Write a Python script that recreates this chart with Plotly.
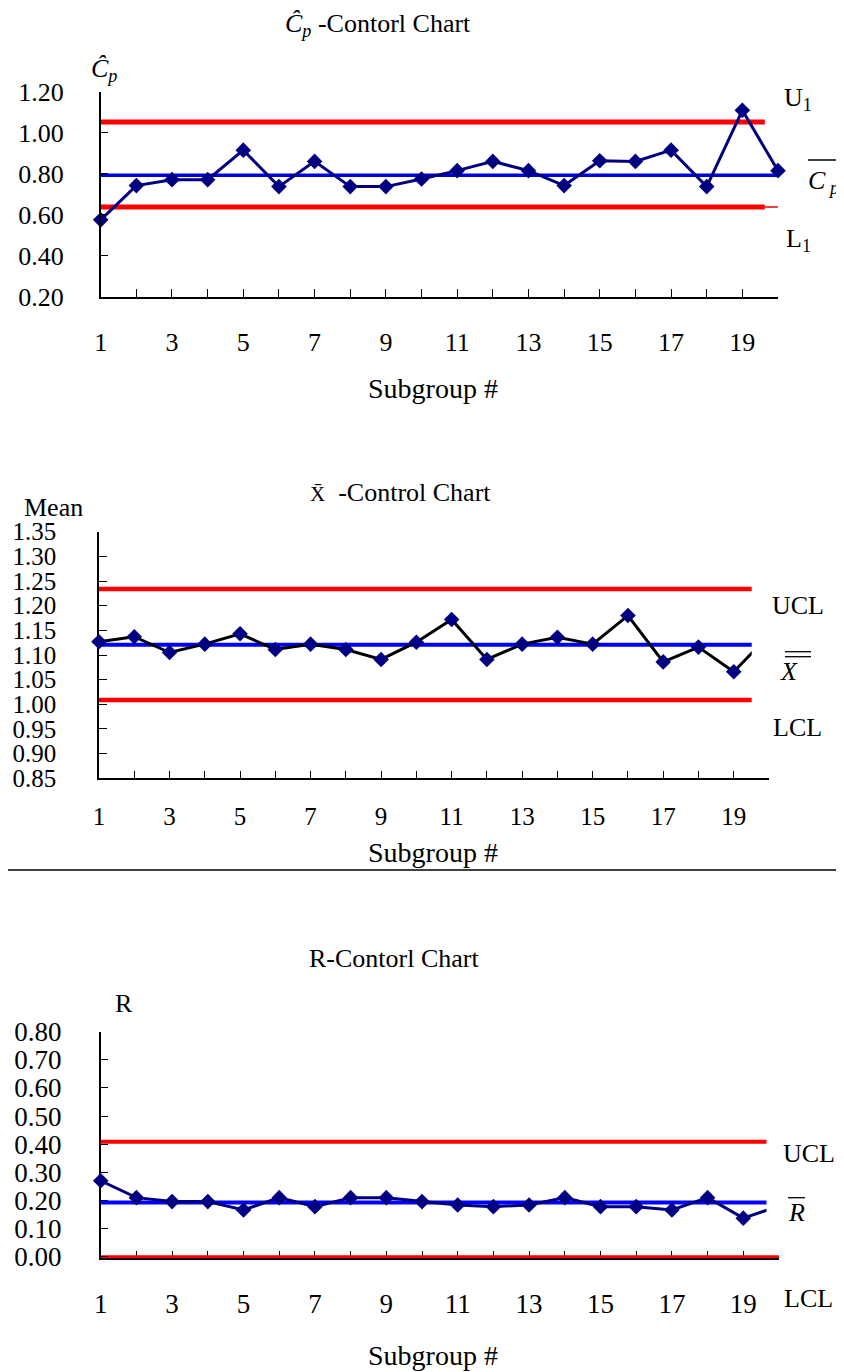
import plotly.graph_objects as go

W, H = 844, 1372
PAGE_OFFSET = 8  # default body margin of the written page

# ---------------- data ----------------
subgroups = list(range(1, 21))

cp_values = [0.575, 0.742, 0.771, 0.771, 0.915, 0.737, 0.860, 0.737, 0.737, 0.774,
             0.815, 0.860, 0.815, 0.742, 0.863, 0.860, 0.915, 0.737, 1.109, 0.815]
cp_u1 = 1.052
cp_center = 0.792
cp_l1 = 0.638
cp_limit_x = [1, 19.63]

mean_values = [1.127, 1.137, 1.105, 1.122, 1.143, 1.111, 1.122, 1.111, 1.091, 1.126,
               1.172, 1.091, 1.122, 1.136, 1.122, 1.180, 1.086, 1.116, 1.066, 1.140]
mean_ucl = 1.234
mean_center = 1.121
mean_lcl = 1.009

r_values = [0.270, 0.210, 0.196, 0.196, 0.166, 0.210, 0.178, 0.210, 0.210, 0.196,
            0.184, 0.178, 0.184, 0.210, 0.178, 0.178, 0.166, 0.210, 0.137, 0.180]
r_ucl = 0.409
r_center = 0.193
r_lcl = 0.0

cp_yticks = [0.20, 0.40, 0.60, 0.80, 1.00, 1.20]
mean_yticks = [0.85, 0.90, 0.95, 1.00, 1.05, 1.10, 1.15, 1.20, 1.25, 1.30, 1.35]
r_yticks = [0.00, 0.10, 0.20, 0.30, 0.40, 0.50, 0.60, 0.70, 0.80]
x_label_ticks = subgroups[0::2]   # 1, 3, ..., 19 carry labels
x_minor_ticks = subgroups[1::2]   # 2, 4, ..., 20 tick marks only

# ---------------- helpers ----------------
FONT = "Liberation Serif"
NAVY = "#000080"
RED = "#FF0000"
BLUE = "#0000FF"


def px(x):
    return (x - PAGE_OFFSET) / W


def py(y):
    return 1 - (y - PAGE_OFFSET) / H


def xdom(left_px, right_px):
    return [px(left_px), px(right_px)]


def ydom(top_px, bottom_px):
    return [py(bottom_px), py(top_px)]


fig = go.Figure()

# ---------------- chart 1 : Cp ----------------
fig.add_trace(go.Scatter(x=cp_limit_x, y=[cp_u1, cp_u1], mode="lines",
                         line=dict(color=RED, width=5), xaxis="x", yaxis="y"))
fig.add_trace(go.Scatter(x=cp_limit_x, y=[cp_l1, cp_l1], mode="lines",
                         line=dict(color=RED, width=5), xaxis="x", yaxis="y"))
fig.add_trace(go.Scatter(x=[cp_limit_x[1], subgroups[-1]], y=[cp_l1, cp_l1], mode="lines",
                         line=dict(color=RED, width=1.5), xaxis="x", yaxis="y"))
fig.add_trace(go.Scatter(x=[subgroups[0], subgroups[-1]], y=[cp_center, cp_center], mode="lines",
                         line=dict(color="#0000DD", width=3.5), xaxis="x", yaxis="y"))
fig.add_trace(go.Scatter(x=subgroups, y=cp_values, mode="lines+markers",
                         line=dict(color=NAVY, width=3),
                         marker=dict(symbol="diamond", size=12, color=NAVY),
                         cliponaxis=False, xaxis="x", yaxis="y"))

# ---------------- chart 2 : X-bar ----------------
# invisible anchor trace so that the visible x axis of chart 2 is drawn
fig.add_trace(go.Scatter(x=[subgroups[0]], y=[mean_center], mode="markers",
                         marker=dict(opacity=0, size=1), hoverinfo="skip",
                         xaxis="x2", yaxis="y2"))
fig.add_trace(go.Scatter(x=[subgroups[0], subgroups[-1]], y=[mean_ucl, mean_ucl], mode="lines",
                         line=dict(color=RED, width=4.5), xaxis="x4", yaxis="y2"))
fig.add_trace(go.Scatter(x=[subgroups[0], subgroups[-1]], y=[mean_lcl, mean_lcl], mode="lines",
                         line=dict(color=RED, width=4.5), xaxis="x4", yaxis="y2"))
fig.add_trace(go.Scatter(x=[subgroups[0], subgroups[-1]], y=[mean_center, mean_center], mode="lines",
                         line=dict(color=BLUE, width=4), xaxis="x4", yaxis="y2"))
fig.add_trace(go.Scatter(x=subgroups, y=mean_values, mode="lines+markers",
                         line=dict(color="black", width=3),
                         marker=dict(symbol="diamond", size=12, color=NAVY),
                         xaxis="x4", yaxis="y2"))

# ---------------- chart 3 : R ----------------
fig.add_trace(go.Scatter(x=[subgroups[0], subgroups[-1]], y=[r_ucl, r_ucl], mode="lines",
                         line=dict(color=RED, width=4), xaxis="x5", yaxis="y3"))
fig.add_trace(go.Scatter(x=[subgroups[0], subgroups[-1]], y=[r_center, r_center], mode="lines",
                         line=dict(color=BLUE, width=4), xaxis="x5", yaxis="y3"))
fig.add_trace(go.Scatter(x=subgroups, y=r_values, mode="lines+markers",
                         line=dict(color=NAVY, width=3),
                         marker=dict(symbol="diamond", size=12, color=NAVY),
                         xaxis="x5", yaxis="y3"))
fig.add_trace(go.Scatter(x=[subgroups[0], subgroups[-1]], y=[r_lcl, r_lcl], mode="lines",
                         line=dict(color=RED, width=3), xaxis="x3", yaxis="y3"))

# ---------------- axes ----------------
common_x = dict(tickmode="array", tickvals=x_label_ticks, ticktext=[str(v) for v in x_label_ticks],
                ticks="inside", ticklen=8, tickwidth=1.2, tickcolor="black",
                minor=dict(tickmode="array", tickvals=x_minor_ticks, ticks="inside",
                           ticklen=8, tickwidth=1.2, tickcolor="black", showgrid=False),
                showline=True, linecolor="black", linewidth=1.5, automargin=False,
                showgrid=False, zeroline=False, fixedrange=True)
common_y = dict(tickmode="array", ticks="inside", ticklen=8, tickwidth=1.2,
                tickcolor="black", showline=True, linecolor="black", linewidth=1.5,
                automargin=False, showgrid=False, zeroline=False, fixedrange=True)

# chart 1 geometry (page pixels)
c1_left, c1_right, c1_top, c1_bot = 100.7, 778, 91.7, 296.7
# chart 2 geometry
c2_left, c2_right, c2_top, c2_bot = 99, 769, 531.7, 778.3
c2_clip = 19.51
# chart 3 geometry
c3_left, c3_right, c3_top, c3_bot = 100.7, 779, 1031.7, 1256.7
c3_clip = 19.65
r_ymin = -0.006


def data_dom(left, right, lo, hi):
    ppu = (right - left) / (subgroups[-1] - subgroups[0])
    return xdom(left + (lo - subgroups[0]) * ppu, left + (hi - subgroups[0]) * ppu)


x_start = 0.6
r_ppu_y = (c3_bot - c3_top) / (r_yticks[-1] - r_yticks[0])

fig.update_layout(
    xaxis=dict(common_x, domain=xdom(c1_left, c1_right), range=[1, 20], anchor="y",
               tickfont=dict(family=FONT, size=26, color="black"), ticklabelstandoff=21),
    yaxis=dict(common_y, domain=ydom(c1_top, c1_bot), range=[0.2, 1.2], anchor="x",
               tickvals=cp_yticks, ticktext=[f"{v:.2f}" for v in cp_yticks],
               tickfont=dict(family=FONT, size=26, color="black"), ticklabelstandoff=30),
    xaxis2=dict(common_x, domain=xdom(c2_left, c2_right), range=[1, 20], anchor="y2",
                tickfont=dict(family=FONT, size=25, color="black"), ticklabelstandoff=15),
    yaxis2=dict(common_y, domain=ydom(c2_top, c2_bot), range=[0.85, 1.35], anchor="x2",
                tickvals=mean_yticks, ticktext=[f"{v:.2f}" for v in mean_yticks],
                tickfont=dict(family=FONT, size=25, color="black"), ticklabelstandoff=36),
    xaxis3=dict(common_x, domain=xdom(c3_left, c3_right), range=[1, 20], anchor="y3",
                layer="below traces",
                tickfont=dict(family=FONT, size=27, color="black"), ticklabelstandoff=20),
    yaxis3=dict(common_y, domain=ydom(c3_top, c3_bot - r_ymin * r_ppu_y), range=[r_ymin, 0.8],
                anchor="x3", tickvals=r_yticks, ticktext=[f"{v:.2f}" for v in r_yticks],
                tickfont=dict(family=FONT, size=27, color="black"), ticklabelstandoff=32),
    xaxis4=dict(domain=data_dom(c2_left, c2_right, x_start, c2_clip), range=[x_start, c2_clip],
                anchor="y2", visible=False, fixedrange=True, automargin=False),
    xaxis5=dict(domain=data_dom(c3_left, c3_right, x_start, c3_clip), range=[x_start, c3_clip],
                anchor="y3", visible=False, fixedrange=True, automargin=False),
    width=W, height=H, margin=dict(l=0, r=0, t=0, b=0, pad=0), autosize=False,
    paper_bgcolor="white", plot_bgcolor="rgba(0,0,0,0)",
    showlegend=False,
    font=dict(family=FONT, color="black"),
)


def label(text, x, y, size=26, xanchor="center"):
    fig.add_annotation(text=text, x=px(x), y=py(y), xref="paper", yref="paper",
                       showarrow=False, xanchor=xanchor, yanchor="middle",
                       font=dict(family=FONT, size=size, color="black"))


# chart 1 labels
label("<i>Ĉ</i><sub><i>p</i></sub> -Contorl Chart", 378, 25, 26)
label("<i>Ĉ</i><sub><i>p</i></sub>", 104, 70, 26)
label("U<sub>1</sub>", 798, 99, 26)
label("<i>C</i><sub><i> p</i></sub>", 806, 182, 26, xanchor="left")
label("L<sub>1</sub>", 798, 240, 26)
label("Subgroup #", 433, 388, 28)

# chart 2 labels
label("<span style='font-size:21px'>X̄</span>  -Control Chart", 400, 493, 26)
label("Mean", 53, 507, 26)
label("UCL", 798, 605, 26)
label("<i>X</i>", 789, 671, 26)
label("LCL", 797, 727, 26)
label("Subgroup #", 433, 852, 28)

# chart 3 labels
label("R-Contorl Chart", 394, 958, 26)
label("R", 124, 1003, 26)
label("UCL", 809, 1153, 26)
label("<i>R</i>", 796, 1212, 26)
label("LCL", 808, 1298, 26)
label("Subgroup #", 433, 1355, 28)

# overline bars of the labels and page separator
bars = [(808, 844, 160, 1.3), (785, 811, 651.7, 1.3), (785, 811, 656.7, 1.3),
        (788, 805, 1197.7, 1.3), (0, 844, 870, 1.3)]
for x0, x1, yy, wdt in bars:
    fig.add_shape(type="line", xref="paper", yref="paper", x0=px(x0), x1=px(x1),
                  y0=py(yy), y1=py(yy), line=dict(color="black", width=wdt))

fig.write_html("out.html")
